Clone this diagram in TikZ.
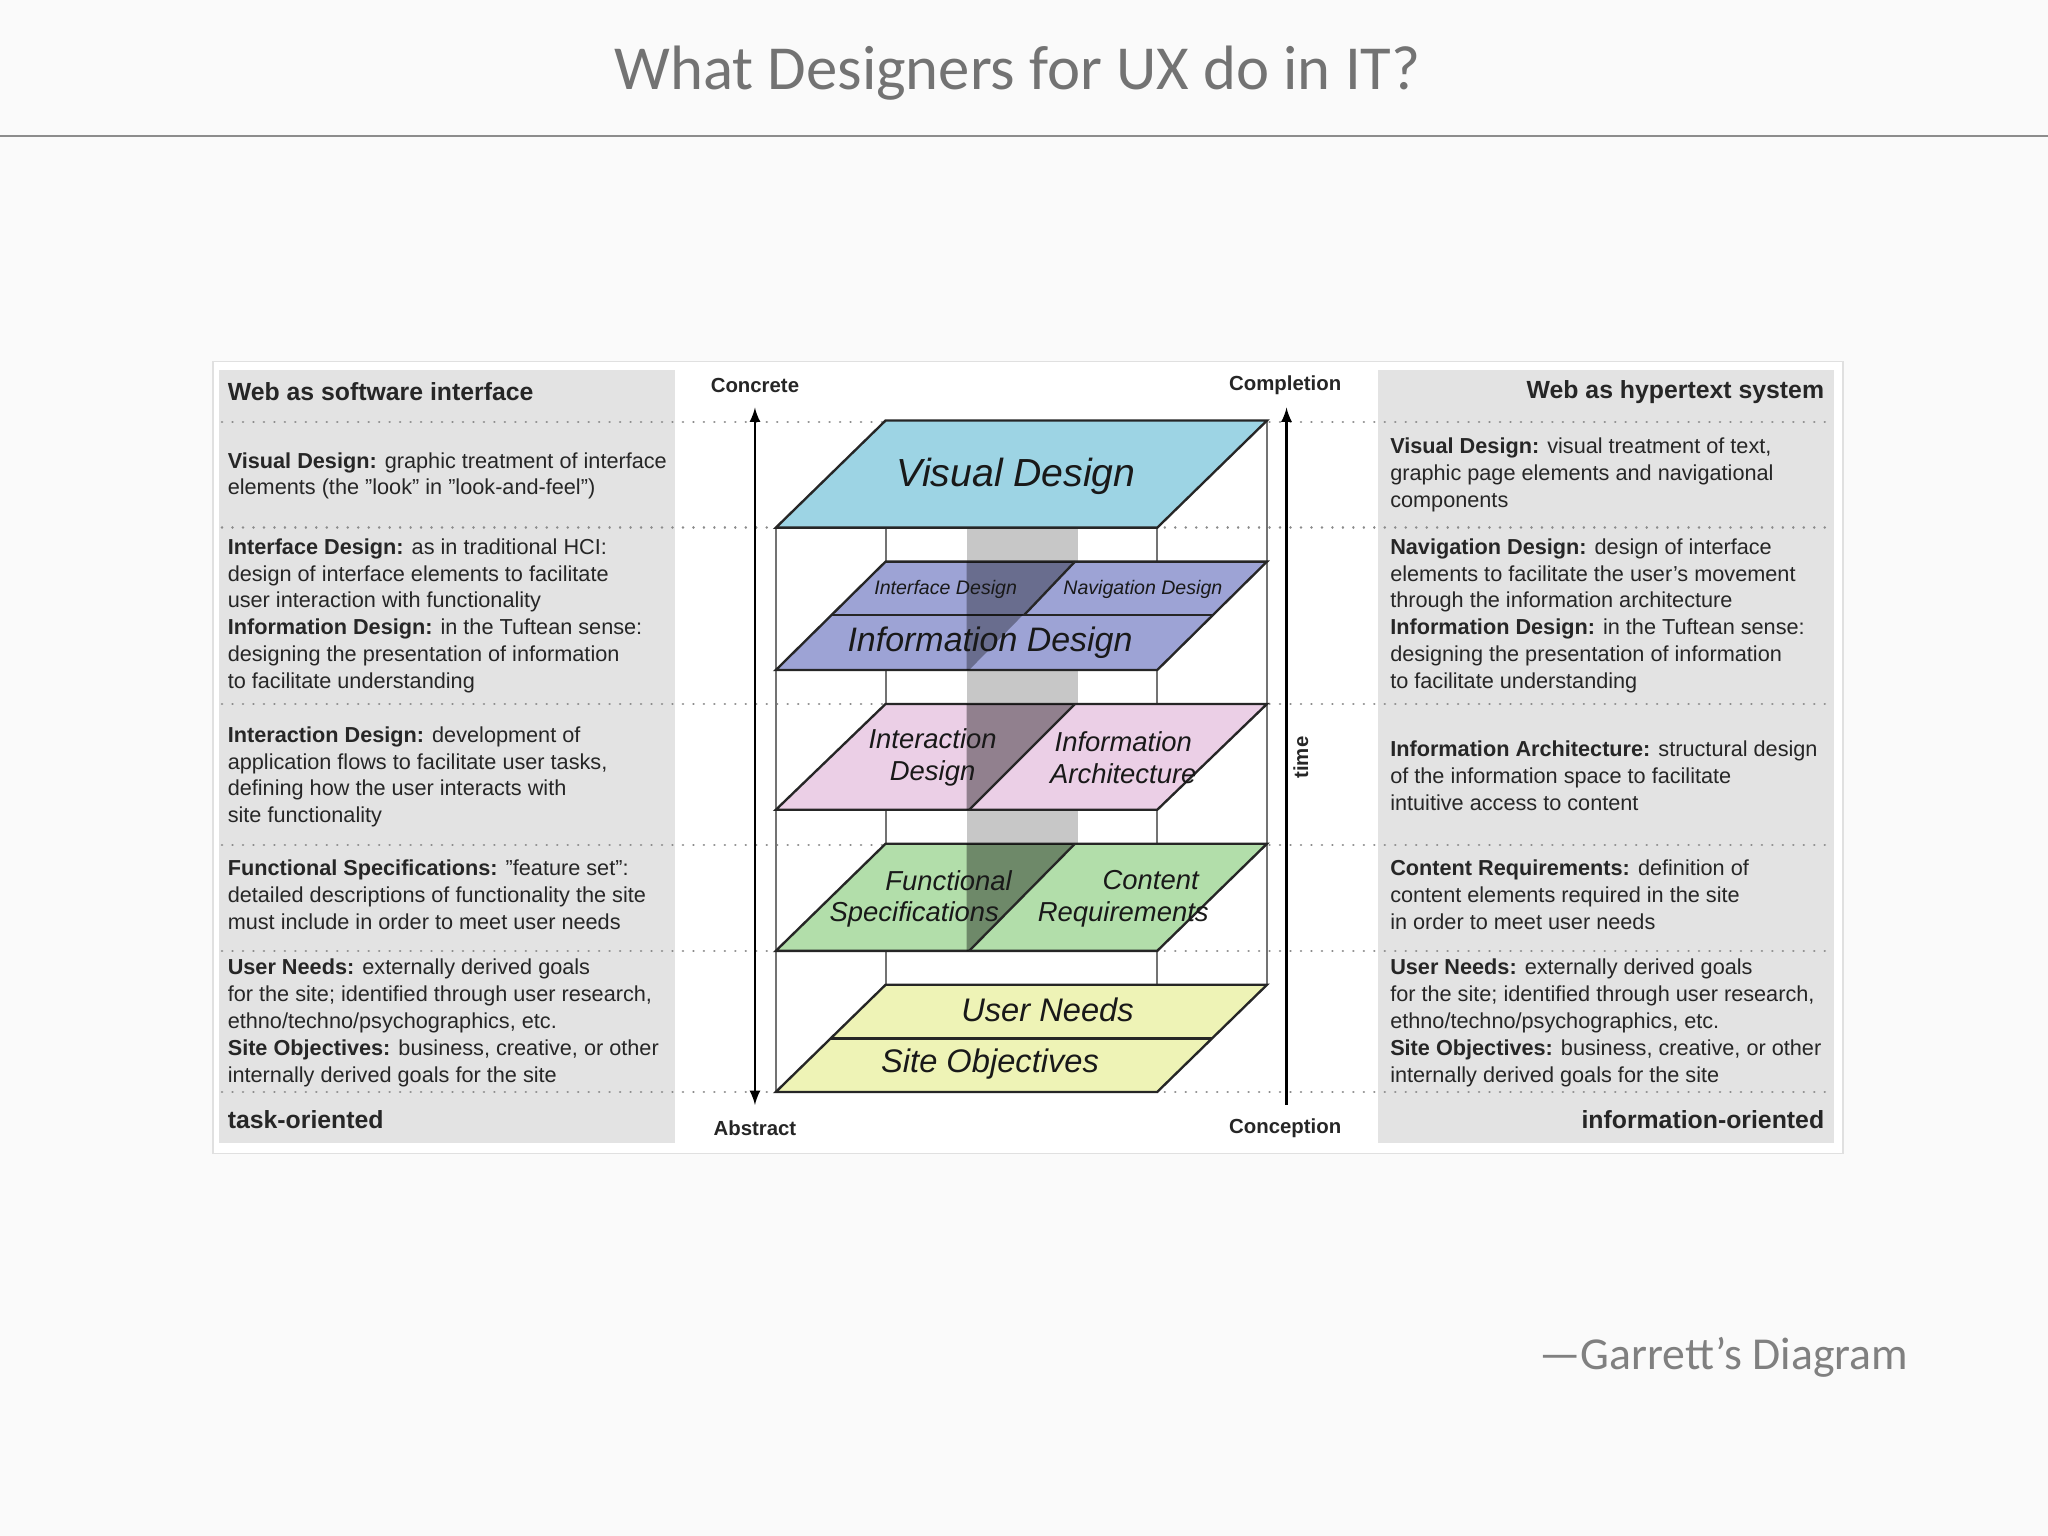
\documentclass[tikz,border=0pt]{standalone}
\usepackage{fontspec}
\setmainfont{Liberation Sans}
\newfontfamily\carl{Carlito}
\begin{document}
\begin{tikzpicture}[x=0.5pt,y=-0.5pt,
  pl/.style={draw=black!85,line width=0.9pt,line join=miter},
  dots/.style={draw=black!45,line width=1pt,dash pattern=on 0.01pt off 4pt,line cap=round},
  txt/.style={anchor=north west,align=left,inner sep=0pt,font=\fontsize{8.3}{10.25}\selectfont,text=black!85},
  txtr/.style={txt},
  hd/.style={inner sep=0pt,font=\fontsize{9.5}{11}\selectfont\bfseries,text=black!85},
  ax/.style={inner sep=0pt,font=\fontsize{7.8}{9}\selectfont\bfseries,text=black!85},
  pt/.style={inner sep=0pt,align=center,text=black!90}]
\definecolor{vis}{HTML}{9DD4E4}
\definecolor{inf}{HTML}{9DA3D5}
\definecolor{intr}{HTML}{EBCFE6}
\definecolor{fun}{HTML}{B2DEAA}
\definecolor{usr}{HTML}{EEF3B6}
\fill[black!2] (0,0) rectangle (1568,1176);
\useasboundingbox (0,0) rectangle (1568,1176);
\node[font=\carl\fontsize{24}{26}\selectfont,text=black!55] (title) at (779,56) {What Designers for UX do in IT?};
\draw[black!45,line width=0.6pt] (0,104) -- (1568,104);
\node[font=\carl\fontsize{17.5}{20}\selectfont,text=black!50,anchor=east] (src) at (1468,1039) {—Garrett’s Diagram};
% frame
\filldraw[fill=white,draw=black!12,line width=0.5pt] (163,277) rectangle (1411,883);
\fill[black!11] (168,283) rectangle (517,875);
\fill[black!11] (1055,283) rectangle (1404,875);
\foreach \y in {323,404,539,647,728,836} \draw[dots] (170,\y) -- (1402,\y);
% headers
\node[hd,anchor=west] (h1) at (174,300) {Web as software interface};
\node[hd,anchor=east] (h2) at (1397,300) {Web as hypertext system};
\node[hd,anchor=west] (f1) at (174,857) {task-oriented};
\node[hd,anchor=east] (f2) at (1397,857) {information-oriented};
% axes
\node[ax] (conc) at (578,295) {Concrete};
\node[ax] (abs) at (578,864) {Abstract};
\node[ax] (comp) at (984,295) {Completion};
\node[ax] (conp) at (984,864) {Conception};
\draw[<->,>=latex,line width=0.9pt] (578,312) -- (578,846);
\draw[->,>=latex,line width=0.9pt] (985,846) -- (985,312);
\node[ax,rotate=90] (time) at (996,580) {time};
% band and frame lines
\fill[black!22] (740,404) rectangle (825,728);
\draw[black!55,line width=0.8pt] (594,404) -- (594,836) (886,404) -- (886,836) (678,322) -- (678,754) (970,322) -- (970,754);
% planes
\filldraw[pl,fill=vis] (594,404) -- (886,404) -- (970,322) -- (678,322) -- cycle;
\filldraw[pl,fill=inf] (594,513) -- (886,513) -- (970,430) -- (678,430) -- cycle;
\draw[pl] (636.5,471) -- (928.5,471);
\filldraw[pl,fill=intr] (594,620) -- (886,620) -- (970,539) -- (678,539) -- cycle;
\filldraw[pl,fill=fun] (594,728) -- (886,728) -- (970,646) -- (678,646) -- cycle;
\filldraw[pl,fill=usr] (594,836) -- (886,836) -- (970,754) -- (678,754) -- cycle;
\draw[pl] (636,795) -- (928,795);
% dark band parts
\fill[black,opacity=0.33] (740,430) -- (823,430) -- (742,513) -- (740,513) -- cycle;
\fill[black,opacity=0.38] (740,539) -- (823,539) -- (742,620) -- (740,620) -- cycle;
\fill[black,opacity=0.38] (740,646) -- (823,646) -- (742,728) -- (740,728) -- cycle;
\draw[pl] (823,430) -- (784,471);
\draw[pl] (823,539) -- (742,620);
\draw[pl] (823,646) -- (742,728);
% plane texts
\node[pt,font=\fontsize{15}{15}\itshape] (vd) at (778,365) {Visual Design};
\node[pt,font=\fontsize{7.5}{8}\itshape] (id) at (724,451) {Interface Design};
\node[pt,font=\fontsize{7.5}{8}\itshape] (nd) at (875,451) {Navigation Design};
\node[pt,font=\fontsize{13}{13}\itshape] (ifd) at (758,492) {Information Design};
\node[pt,font=\fontsize{10.5}{12}\itshape] (ixd) at (714,580) {Interaction\\Design};
\node[pt,font=\fontsize{10.5}{12}\itshape] (ia) at (860,580) {Information\\Architecture};
\node[pt,font=\fontsize{10.5}{12}\itshape] (fs) at (700,688) {\hspace*{2.5em}Functional\\Specifications};
\node[pt,font=\fontsize{10.5}{12}\itshape] (cr) at (860,688) {\hspace*{2em}Content\\Requirements};
\node[pt,font=\fontsize{12.5}{13}\itshape] (un) at (802,773) {User Needs};
\node[pt,font=\fontsize{12.5}{13}\itshape] (so) at (758,815) {Site Objectives};
% left texts
\node[txt] (l1) at (174,346) {\textbf{Visual Design:} graphic treatment of interface\\elements (the "look" in "look-and-feel")};
\node[txt] (l2) at (174,412) {\textbf{Interface Design:} as in traditional HCI:\\design of interface elements to facilitate\\user interaction with functionality\\\textbf{Information Design:} in the Tuftean sense:\\designing the presentation of information\\to facilitate understanding};
\node[txt] (l3) at (174,556) {\textbf{Interaction Design:} development of\\application flows to facilitate user tasks,\\defining how the user interacts with\\site functionality};
\node[txt] (l4) at (174,658) {\textbf{Functional Specifications:} "feature set":\\detailed descriptions of functionality the site\\must include in order to meet user needs};
\node[txt] (l5) at (174,734) {\textbf{User Needs:} externally derived goals\\for the site; identified through user research,\\ethno/techno/psychographics, etc.\\\textbf{Site Objectives:} business, creative, or other\\internally derived goals for the site};
% right texts
\node[txt] (r1) at (1064,335) {\textbf{Visual Design:} visual treatment of text,\\graphic page elements and navigational\\components};
\node[txt] (r2) at (1064,412) {\textbf{Navigation Design:} design of interface\\elements to facilitate the user's movement\\through the information architecture\\\textbf{Information Design:} in the Tuftean sense:\\designing the presentation of information\\to facilitate understanding};
\node[txt] (r3) at (1064,567) {\textbf{Information Architecture:} structural design\\of the information space to facilitate\\intuitive access to content};
\node[txt] (r4) at (1064,658) {\textbf{Content Requirements:} definition of\\content elements required in the site\\in order to meet user needs};
\node[txt] (r5) at (1064,734) {\textbf{User Needs:} externally derived goals\\for the site; identified through user research,\\ethno/techno/psychographics, etc.\\\textbf{Site Objectives:} business, creative, or other\\internally derived goals for the site};
\end{tikzpicture}
\end{document}
